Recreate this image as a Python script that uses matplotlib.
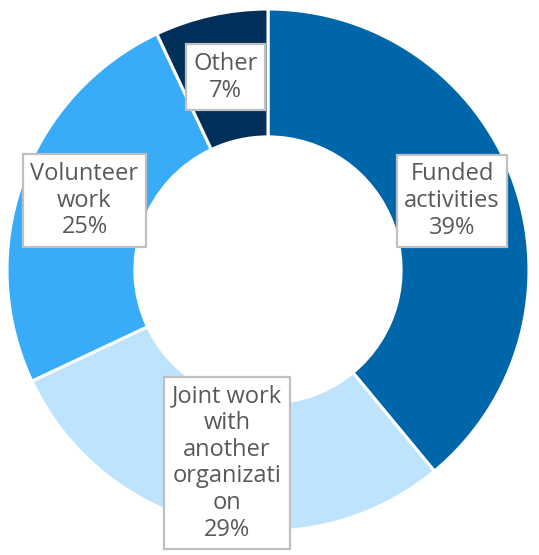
import matplotlib.pyplot as plt

categories = ["Funded\nactivities", "Joint work\nwith\nanother\norganizati\non", "Volunteer\nwork", "Other"]
shares = [39, 29, 25, 7]
colors = ["#0066AA", "#BDE4FC", "#38ABF9", "#00305A"]
label_pos = [(0.705, 0.265), (-0.157, -0.74), (-0.703, 0.266), (-0.163, 0.738)]

fig = plt.figure(figsize=(5.39, 5.55), dpi=100)
ax = fig.add_axes([0, 0, 1, 1])

wedges, _ = ax.pie(shares, colors=colors, startangle=90, counterclock=False,
                   radius=1, wedgeprops=dict(width=0.49, edgecolor="white", linewidth=2.2))

for name, val, (x, y) in zip(categories, shares, label_pos):
    ax.text(x, y, f"{name}\n{val}%", ha="center", va="center", fontsize=17,
            color="#595959", family="Open Sans", linespacing=1.15,
            bbox=dict(boxstyle="square,pad=0.32", fc="white", ec="#BFBFBF", lw=1.6))

# centre at (268, 270) px, radius 261 px
ax.set_xlim(-268 / 261, (539 - 268) / 261)
ax.set_ylim(-(555 - 270) / 261, 270 / 261)
ax.set_aspect("auto")
ax.axis("off")

fig.savefig("out.png", dpi=100)
